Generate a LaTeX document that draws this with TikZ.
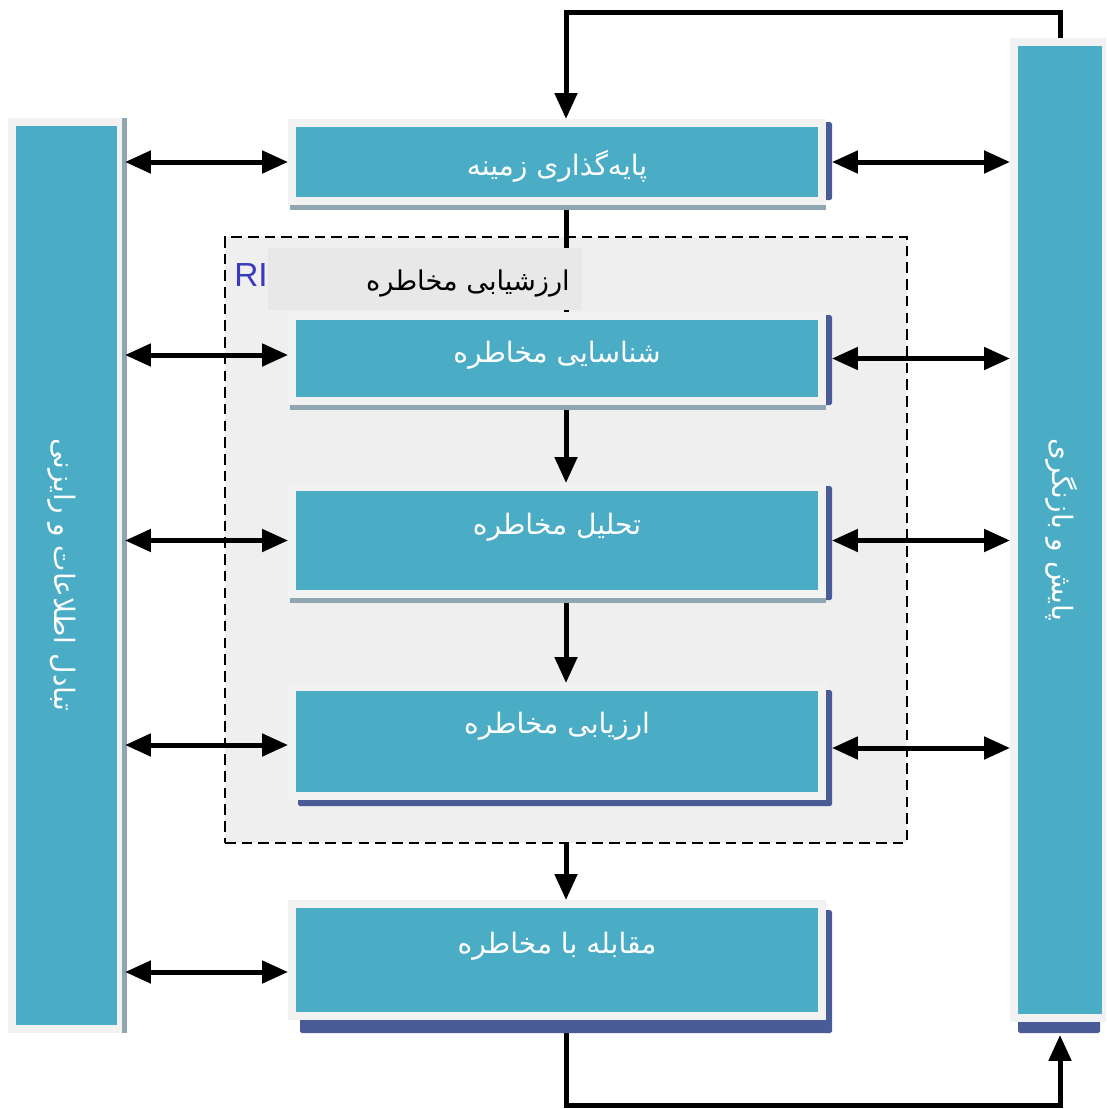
\documentclass[tikz,border=0pt]{standalone}
\usepackage{fontspec}
\newfontfamily\arabicfont[Script=Arabic]{DejaVu Sans}
\setsansfont{Liberation Sans}
\TeXXeTstate=1
\usetikzlibrary{arrows.meta,calc}

\definecolor{boxblue}{HTML}{4BACC6}
\definecolor{framegray}{HTML}{F2F2F2}
\definecolor{shadowblue}{HTML}{4A5C97}
\definecolor{stripgray}{HTML}{8FA6B2}
\definecolor{contgray}{HTML}{EFEFEF}
\definecolor{labgray}{HTML}{E8E8E8}
\definecolor{riblue}{HTML}{3A3AC0}

\newcommand\rtltext[1]{\arabicfont\beginR #1\endR}

\begin{document}
\begin{tikzpicture}[x=0.02cm,y=-0.02cm,
  stage/.style={draw=framegray, line width=0.16cm, fill=boxblue,
    minimum width=10.6cm, inner sep=0pt},
  side/.style={draw=framegray, line width=0.16cm, fill=boxblue, inner sep=0pt},
  stagetext/.style={text=white, inner sep=0pt,
    font=\arabicfont\fontsize{16}{18}\selectfont},
  sidetext/.style={text=white, inner sep=0pt, rotate=-90,
    font=\arabicfont\fontsize{16}{18}\selectfont},
  tipA/.tip={Triangle[length=0.52cm,width=0.44cm]},
  link/.style={line width=0.1cm},
  onearrow/.style={link, -tipA},
  twoarrow/.style={link, tipA-tipA},
  shade/.style={fill=shadowblue, rounded corners=1pt},
  strip/.style={fill=stripgray}]

\useasboundingbox (0,0) rectangle (1106,1109);
\clip (0,0) rectangle (1106,1109);
\coordinate (spine) at (566,0);

% dashed frame of the assessment group
\node[draw, dashed, fill=contgray, line width=0.7pt,
  dash pattern=on 6pt off 3.5pt, minimum width=13.64cm,
  minimum height=12.12cm, inner sep=0pt] (C) at (566,540) {};

% side columns
\node[side, minimum width=2.18cm, minimum height=18.14cm] (L) at (66.5,575.5) {};
\fill[strip] ([shift={(-3,0)}]L.north east) rectangle ([shift={(2,0)}]L.south east);
\fill[shade] (1018,1018) rectangle (1100,1033);
\node[side, minimum width=1.84cm, minimum height=19.52cm] (R) at (1060,530) {};
\node[sidetext] (Lt) at (62,575) {\rtltext{تبادل اطلاعات و رایزنی}};
\node[sidetext] (Rt) at (1062,530) {\rtltext{پایش و بازنگری}};

% vertical flow through the spine
\draw[link] (spine |- 0,205) -- (spine |- 0,312);
\draw[onearrow] (spine |- 0,405) -- (spine |- 0,483);
\draw[onearrow] (spine |- 0,598) -- (spine |- 0,683);
\draw[onearrow] (spine |- C.south) -- (spine |- 0,900);

% feedback loops
\draw[onearrow] (R.north) |- (spine |- 0,12) -- (spine |- 0,119);
\draw[onearrow] (spine |- 0,1020) |- (R.south |- 0,1105) -- ([shift={(0,13)}]R.south);

% group title
\node[fill=labgray, minimum width=6.28cm, minimum height=1.24cm, inner sep=0pt] (lab) at (425,279) {};
\node[inner sep=0pt, font=\arabicfont\fontsize{15.5}{18}\selectfont] (labt) at (468,283) {\rtltext{ارزشیابی مخاطره}};
\node[text=riblue, inner sep=0pt, font=\sffamily\fontsize{19}{19}\selectfont] (ri) at (251,275) {RI};

% stage shadows
\fill[shade] (821,122) rectangle (832,200);
\fill[strip] (290,205) rectangle (826,210);
\fill[shade] (821,315) rectangle (832,405);
\fill[strip] (290,405) rectangle (826,410);
\fill[shade] (821,486) rectangle (832,600);
\fill[strip] (290,598) rectangle (826,603);
\fill[shade] (298,690) rectangle (832,806);
\fill[shade] (300,910) rectangle (832,1033);

% stages
\node[stage, minimum height=1.56cm] (b1) at (557,162) {};
\node[stage, minimum height=1.70cm] (b2) at (557,358.5) {};
\node[stage, minimum height=2.14cm] (b3) at (557,540.5) {};
\node[stage, minimum height=2.18cm] (b4) at (557,741.5) {};
\node[stage, minimum height=2.24cm] (b5) at (557,960) {};

\node[stagetext] (t1) at (557,166) {\rtltext{پایه^^^^200cگذاری زمینه}};
\node[stagetext] (t2) at (557,355) {\rtltext{شناسایی مخاطره}};
\node[stagetext] (t3) at (557,527) {\rtltext{تحلیل مخاطره}};
\node[stagetext] (t4) at (557,726) {\rtltext{ارزیابی مخاطره}};
\node[stagetext] (t5) at (557,946) {\rtltext{مقابله با مخاطره}};

% exchanges with the side columns
\draw[twoarrow] (L.east |- b1.west) -- (b1.west);
\draw[twoarrow] (L.east |- 0,355) -- (b2.west |- 0,355);
\draw[twoarrow] (L.east |- b3.west) -- (b3.west);
\draw[twoarrow] (L.east |- 0,745) -- (b4.west |- 0,745);
\draw[twoarrow] (L.east |- 0,972) -- (b5.west |- 0,972);

\draw[twoarrow] ([shift={(6,0)}]b1.east) -- (R.west |- b1.east);
\draw[twoarrow] ([shift={(6,0)}]b2.east) -- (R.west |- b2.east);
\draw[twoarrow] ([shift={(6,0)}]b3.east) -- (R.west |- b3.east);
\draw[twoarrow] ([shift={(6,0)}]b4.east |- 0,748) -- (R.west |- 0,748);
\end{tikzpicture}
\end{document}
